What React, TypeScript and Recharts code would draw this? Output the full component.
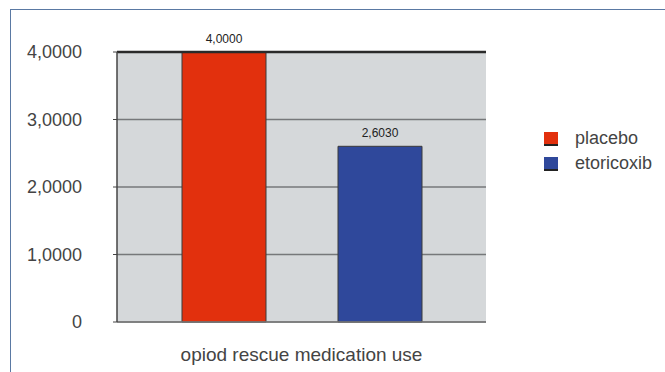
import { BarChart, Bar, XAxis, YAxis, CartesianGrid, LabelList, ReferenceLine } from 'recharts';

const categories = ['opiod rescue medication use'];
const placeboValues = [4.0];
const etoricoxibValues = [2.603];
const yTicks = [0, 1, 2, 3, 4];

const SERIES = [
  { key: 'placebo', color: '#e2300d' },
  { key: 'etoricoxib', color: '#2f489b' },
];

const data = categories.map((name, i) => ({
  name,
  placebo: placeboValues[i],
  etoricoxib: etoricoxibValues[i],
}));

const FONT = '"Liberation Sans", Arial, Helvetica, sans-serif';

// 4 decimals with a comma, as in the original (0 stays plain)
const fmt = (v: number) => (v === 0 ? '0' : v.toFixed(4).replace('.', ','));

function LegendBox() {
  return (
    <div style={{ position: 'absolute', left: 544, top: 126, fontFamily: FONT, fontSize: 18, color: '#444' }}>
      {SERIES.map((s) => (
        <div key={s.key} style={{ display: 'flex', alignItems: 'center', height: 25 }}>
          <span
            style={{
              display: 'inline-block',
              width: 14,
              height: 14,
              background: s.color,
              borderBottom: '2px solid #222',
              boxSizing: 'border-box',
              marginRight: 17,
            }}
          />
          <span>{s.key}</span>
        </div>
      ))}
    </div>
  );
}

export default function App() {
  return (
    <div style={{ position: 'absolute', left: 0, top: 0, width: 665, height: 372, background: '#fff' }}>
      <div
        style={{
          position: 'absolute',
          left: 10,
          top: 9,
          right: 0,
          bottom: 0,
          borderTop: '1.5px solid #5a79a3',
          borderLeft: '1.5px solid #5a79a3',
        }}
      />
      <BarChart
        width={665}
        height={372}
        data={data}
        margin={{ top: 52, right: 179, bottom: 0, left: 0 }}
        barCategoryGap={65}
        barGap={72}
        style={{ position: 'absolute', left: 0, top: 0, fontFamily: FONT }}
      >
        <CartesianGrid vertical={false} stroke="#76787a" fill="#d5d8da" strokeWidth={1.4} />
        <XAxis
          dataKey="name"
          height={50}
          tickLine={false}
          tickSize={0}
          tickMargin={26}
          axisLine={{ stroke: '#7a7a7a', strokeWidth: 1.5 }}
          tick={{ fontSize: 19, fill: '#444' }}
        />
        <YAxis
          domain={[0, 4]}
          ticks={yTicks}
          width={117}
          tickSize={4}
          tickMargin={31}
          tickFormatter={fmt}
          axisLine={{ stroke: '#444', strokeWidth: 1.5 }}
          tickLine={{ stroke: '#444' }}
          tick={{ fontSize: 18, fill: '#444' }}
        />
        <YAxis
          yAxisId="frame"
          orientation="right"
          domain={[0, 4]}
          width={0}
          tick={false}
          tickLine={false}
          axisLine={{ stroke: '#8a8c8e', strokeWidth: 2 }}
        />
        <ReferenceLine y={4} stroke="#2a2a2a" strokeWidth={2.5} />
        {SERIES.map((s) => (
          <Bar key={s.key} dataKey={s.key} fill={s.color} stroke="#3a3a3a" strokeWidth={1} isAnimationActive={false}>
            <LabelList dataKey={s.key} position="top" offset={9} formatter={(v: number) => fmt(v)} style={{ fontSize: 12, fill: '#222' }} />
          </Bar>
        ))}
      </BarChart>
      <LegendBox />
    </div>
  );
}
